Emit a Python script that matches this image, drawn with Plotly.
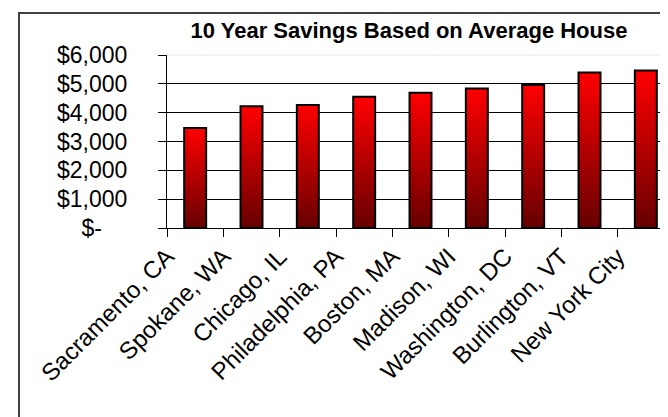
import plotly.graph_objects as go

cities = ["Sacramento, CA", "Spokane, WA", "Chicago, IL", "Philadelphia, PA", "Boston, MA",
          "Madison, WI", "Washington, DC", "Burlington, VT", "New York City"]
savings = [3470, 4220, 4270, 4550, 4690, 4840, 4960, 5390, 5460]
ytick_vals = [0, 1000, 2000, 3000, 4000, 5000, 6000]
ytick_text = ["$-\u00a0\u00a0\u00a0\u00a0", "$1,000", "$2,000", "$3,000", "$4,000", "$5,000", "$6,000"]
title_text = "10 Year Savings Based on Average House"

FONT = "Liberation Sans, Arial, sans-serif"
BAR_W = 0.39
N_SEG = 40
top_rgb = (255, 0, 0)
bot_rgb = (102, 0, 0)

fig = go.Figure()
# vertical gradient per bar: overlapping slices (each runs to the bar top), dark at bottom, bright at top
for i in range(N_SEG):
    t = (i + 0.5) / N_SEG
    c = tuple(round(b + (a - b) * t) for a, b in zip(top_rgb, bot_rgb))
    fig.add_trace(go.Bar(
        x=cities,
        y=[v * (N_SEG - i) / N_SEG for v in savings],
        base=[v * i / N_SEG for v in savings],
        width=BAR_W,
        marker=dict(color="rgb(%d,%d,%d)" % c, line=dict(width=0)),
        showlegend=False, hoverinfo="skip",
    ))
# outline of each bar
fig.add_trace(go.Bar(
    x=cities, y=savings, width=BAR_W,
    marker=dict(color="rgba(0,0,0,0)", line=dict(color="black", width=2)),
    showlegend=False,
))

L, R, T, B = 159, 2, 47, 197
W, H = 668, 417
pw, ph = W - L - R, H - T - B

fig.update_layout(
    width=W, height=H,
    margin=dict(l=L, r=R, t=T, b=B),
    paper_bgcolor="white", plot_bgcolor="white",
    barmode="overlay",
    font=dict(family=FONT, color="black"),
    title=dict(text="<b>%s</b>" % title_text, font=dict(size=22, family=FONT, color="black"),
               x=(401 - L) / pw, xref="paper", xanchor="center",
               y=1 - 22 / H, yref="container", yanchor="middle"),
    xaxis=dict(
        type="category", showline=True, linecolor="black", linewidth=1,
        ticks="outside", tickson="boundaries", ticklen=8, tickcolor="black",
        tickangle=-45, tickfont=dict(size=24, family=FONT, color="black"),
        showgrid=False, ticklabelstandoff=4, ticklabelshift=-28,
    ),
    yaxis=dict(
        range=[0, 6000], tickvals=ytick_vals, ticktext=ytick_text,
        showline=True, linecolor="black", linewidth=1,
        ticks="outside", ticklen=8, tickcolor="black",
        tickfont=dict(size=23, family=FONT, color="black"),
        showgrid=False, zeroline=False, ticklabelstandoff=26,
        minor=dict(tickvals=ytick_vals[1:-1], showgrid=True, gridcolor="black", gridwidth=1, ticks=""),
    ),
    shapes=[
        dict(type="line", xref="paper", yref="paper", x0=0, x1=1, y0=1, y1=1,
             line=dict(color="#e6e6e6", width=1)),
        dict(type="rect", xref="paper", yref="paper",
             x0=(11 - L) / pw, x1=1.3, y0=(H - B - 5) / ph, y1=-1.5,
             line=dict(color="#404040", width=2), fillcolor="rgba(0,0,0,0)"),
    ],
)

fig.write_html("out.html")
